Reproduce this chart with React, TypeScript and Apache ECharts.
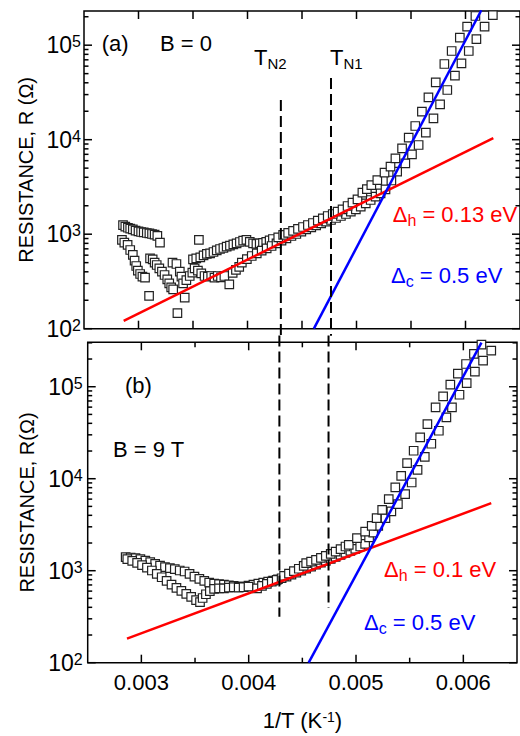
import React, { useEffect, useRef } from "react";
import * as echarts from "echarts";

const FONT = "Liberation Sans, Arial, Helvetica, sans-serif";
const RED = "#ff0000";
const BLUE = "#0000ff";

const X_MIN = 0.0025;
const X_MAX = 0.0065;
const Y_MIN = 100;
const Y_MAX_A = 230000;
const Y_MAX_B = 304000;

const xMajorTicks = [0.003, 0.004, 0.005, 0.006];
const xMinorTicks = [0.0035, 0.0045, 0.0055];
const yMajorTicks = [1e2, 1e3, 1e4, 1e5];
const yMinorTicksA = [200, 300, 400, 500, 600, 700, 800, 900, 2000, 3000, 4000, 5000, 6000, 7000, 8000, 9000, 20000, 30000, 40000, 50000, 60000, 70000, 80000, 90000, 200000];
const yMinorTicksB = [200, 300, 400, 500, 600, 700, 800, 900, 2000, 3000, 4000, 5000, 6000, 7000, 8000, 9000, 20000, 30000, 40000, 50000, 60000, 70000, 80000, 90000, 200000, 300000];

// Panel (a): B = 0, resistance vs 1/T
const dataA = [
  [0.002858, 1250], [0.002879, 1200], [0.002903, 1170], [0.002924, 1145], [0.002948, 1125], [0.002973, 1090],
  [0.003, 1070], [0.003024, 1055], [0.003048, 1045], [0.003076, 1030], [0.0031, 1020], [0.003124, 1005],
  [0.003148, 990], [0.003173, 960], [0.003197, 815],
  [0.002848, 869], [0.00287, 814], [0.0029, 770], [0.002924, 680], [0.002948, 603], [0.002964, 525],
  [0.002979, 461], [0.002994, 411], [0.003015, 379], [0.003036, 356], [0.00306, 347], [0.003106, 556],
  [0.00313, 542], [0.003148, 500], [0.003167, 472], [0.003191, 435], [0.003215, 402], [0.003239, 370],
  [0.003264, 333], [0.003282, 302], [0.0033, 274], [0.003318, 261],
  [0.003097, 222], [0.003357, 146], [0.003424, 213], [0.003554, 869],
  [0.003312, 500], [0.003348, 484], [0.003379, 402], [0.003394, 356], [0.003409, 302], [0.003439, 327],
  [0.00347, 361], [0.003494, 392],
  [0.0035, 542], [0.00353, 556], [0.003567, 569], [0.003597, 598], [0.003627, 618], [0.003657, 628],
  [0.003688, 648], [0.003718, 675], [0.003748, 697], [0.003779, 714], [0.003809, 738], [0.003839, 757],
  [0.00387, 782], [0.0039, 800], [0.00393, 827], [0.00396, 855], [0.00399, 869], [0.004021, 830],
  [0.004051, 800], [0.004082, 790], [0.004112, 800], [0.004142, 810], [0.004172, 830], [0.004203, 860],
  [0.004233, 890],
  [0.003515, 435], [0.003545, 411], [0.003576, 385], [0.003606, 361], [0.003636, 356], [0.003667, 361],
  [0.003697, 347], [0.003727, 361], [0.003757, 350], [0.003788, 361], [0.003833, 295], [0.003864, 390],
  [0.003894, 420], [0.003924, 450], [0.003948, 500], [0.003994, 545], [0.004039, 588],
  [0.004085, 628], [0.00413, 670], [0.004176, 708], [0.004221, 750], [0.004266, 800], [0.004312, 855],
  [0.004357, 904], [0.004403, 957], [0.004448, 1005], [0.004494, 1064], [0.004539, 1125], [0.004585, 1183],
  [0.00463, 1241], [0.004676, 1303], [0.004721, 1358], [0.004766, 1413], [0.004812, 1483], [0.004857, 1558],
  [0.004903, 1636], [0.004948, 1731], [0.004994, 1832], [0.005039, 1955], [0.005085, 2122], [0.00513, 2301],
  [0.005175, 2496], [0.005221, 2704], [0.005266, 2985], [0.00532, 3700],
  [0.005373, 4585], [0.005448, 5620], [0.005509, 7000], [0.00557, 8790], [0.005636, 11860], [0.005706, 16820],
  [0.005767, 23650], [0.005833, 33570], [0.005903, 47580], [0.005963, 64300], [0.00603, 86800], [0.0061, 116000],
  [0.006175, 157000], [0.006251, 208500],
  [0.004282, 927], [0.004327, 982], [0.004373, 1031], [0.004418, 1082], [0.004463, 1136], [0.004509, 1192],
  [0.004554, 1251], [0.0046, 1313], [0.004645, 1390], [0.004691, 1472], [0.004736, 1558], [0.004782, 1636],
  [0.004827, 1731], [0.004872, 1832], [0.004918, 1987], [0.004963, 2156], [0.005009, 2339], [0.005054, 2748],
  [0.005095, 3000], [0.005136, 3311], [0.005191, 3740], [0.005257, 4475], [0.005312, 5180], [0.005357, 6340],
  [0.005418, 8090], [0.005479, 10500], [0.005539, 13960], [0.0056, 19800], [0.00566, 28050], [0.005727, 40450],
  [0.005806, 63200], [0.005873, 86800], [0.005948, 120000], [0.006015, 157000], [0.006091, 203700]
];

// Panel (b): B = 9 T
const dataB = [
  [0.0028537, 1403], [0.0029, 1391], [0.0029452, 1368], [0.002991, 1334], [0.0030368, 1290], [0.0030826, 1237],
  [0.0031284, 1186], [0.0031741, 1138], [0.0032199, 1092], [0.0032657, 1065], [0.0033115, 1038], [0.0033573, 1005],
  [0.0034031, 980], [0.0034489, 923], [0.0034946, 863], [0.0035404, 814], [0.0035862, 774], [0.003632, 743],
  [0.0036778, 725], [0.0037236, 713], [0.0037694, 707], [0.0038151, 695], [0.0038609, 684], [0.0039067, 673],
  [0.0039525, 673], [0.0039983, 689], [0.0040441, 707], [0.0040899, 725], [0.0041356, 743], [0.0041814, 762],
  [0.0042272, 781], [0.004273, 807],
  [0.0028689, 1334], [0.0029147, 1280], [0.0029605, 1217], [0.0030063, 1148], [0.0030521, 1082], [0.0030979, 1005],
  [0.0031436, 923], [0.0031894, 849], [0.0032352, 774], [0.003281, 707], [0.0033268, 650], [0.0033726, 603],
  [0.0034183, 560], [0.0034641, 520], [0.0035099, 480], [0.0035465, 455], [0.0035709, 505], [0.0036015, 555],
  [0.0036381, 600], [0.0036778, 634], [0.0037236, 644], [0.0037694, 644], [0.0038151, 656], [0.0038609, 661],
  [0.0039067, 656], [0.0039525, 661], [0.0039983, 673],
  [0.0040778, 644], [0.0041236, 684], [0.0041694, 718], [0.0042151, 762], [0.0042609, 794], [0.0043067, 828],
  [0.0043525, 863], [0.0043983, 908], [0.004444, 955], [0.0044898, 1003], [0.0045356, 1055], [0.0045814, 1109],
  [0.0046272, 1166], [0.004673, 1225], [0.0047187, 1278], [0.0047645, 1343], [0.0048103, 1413], [0.0048561, 1485],
  [0.0049019, 1563], [0.0049476, 1641], [0.0049934, 1726], [0.0050392, 1832], [0.005085, 1958],
  [0.0051218, 2300], [0.00516, 2600], [0.0052072, 3073], [0.0052744, 3722], [0.0053293, 4406], [0.0053904, 5290],
  [0.0054575, 6790], [0.0055186, 9100], [0.0055735, 12500], [0.0056407, 17300], [0.0057017, 23990], [0.0057719, 33200],
  [0.0058421, 46360], [0.005894, 59600], [0.0059641, 81800], [0.0060313, 109600], [0.0061076, 145600],
  [0.0061839, 191900], [0.0062602, 246600],
  [0.0043296, 880], [0.0043754, 930], [0.0044212, 990], [0.004467, 1050], [0.0045128, 1130],
  [0.0045356, 1206], [0.0045814, 1256], [0.0046272, 1310], [0.004673, 1377], [0.0047187, 1449], [0.0047645, 1523],
  [0.0048103, 1614], [0.0048561, 1713], [0.0049019, 1832], [0.0049325, 1909], [0.0050088, 2255], [0.0050851, 2665],
  [0.0051462, 3073], [0.005192, 3722], [0.0052438, 4590], [0.005305, 5998], [0.005366, 8035], [0.0054209, 10760],
  [0.0054758, 14790], [0.0055369, 20140], [0.0055979, 28120], [0.0056651, 39270], [0.0057414, 59600],
  [0.0058116, 78500], [0.0058787, 105200], [0.0059489, 138700], [0.0060252, 176600], [0.0060985, 227000],
  [0.0061686, 286400]
];

// Activation fits (end points)
const fitHopA = [[0.002864, 121], [0.006255, 10400]];
const fitGapA = [[0.004609, 100], [0.006145, 234000]];
const fitHopB = [[0.002866, 183], [0.00626, 5420]];
const fitGapB = [[0.004559, 100], [0.006169, 301000]];

// Neel temperatures (dashed markers, 1/T)
const tN2A = [[0.004306, 26300], [0.004306, 84]];
const tN1A = [[0.004766, 45000], [0.004766, 84]];
const tN2B = [[0.004286, 360000], [0.004286, 316]];
const tN1B = [[0.004744, 360000], [0.004744, 394]];

const buildTicks = (yMinor: number[], xMinorLen: number) => {
  const t: number[][] = [];
  yMajorTicks.forEach((v) => t.push([0, v, 8]));
  yMinor.forEach((v) => t.push([0, v, 4.5]));
  xMajorTicks.forEach((v) => t.push([1, v, 8]));
  xMinorTicks.forEach((v) => t.push([1, v, xMinorLen]));
  return t;
};

const tickSeries = (idx: number, yMax: number, ticks: number[][]) => ({
  type: "custom",
  xAxisIndex: idx,
  yAxisIndex: idx,
  silent: true,
  clip: false,
  z: 10,
  data: ticks,
  renderItem: (params: any, api: any) => {
    const kind = api.value(0);
    const v = api.value(1);
    const len = api.value(2);
    const st = { stroke: "#000", lineWidth: 1.5 };
    if (kind === 0) {
      const a = api.coord([X_MIN, v]);
      const b = api.coord([X_MAX, v]);
      return {
        type: "group",
        children: [
          { type: "line", shape: { x1: a[0], y1: a[1], x2: a[0] + len, y2: a[1] }, style: st },
          { type: "line", shape: { x1: b[0], y1: b[1], x2: b[0] - len, y2: b[1] }, style: st },
        ],
      };
    }
    const a = api.coord([v, Y_MIN]);
    const b = api.coord([v, yMax]);
    return {
      type: "group",
      children: [
        { type: "line", shape: { x1: a[0], y1: a[1], x2: a[0], y2: a[1] - len }, style: st },
        { type: "line", shape: { x1: b[0], y1: b[1], x2: b[0], y2: b[1] + len }, style: st },
      ],
    };
  },
});

const yLabelFmt = (v: number) => {
  const e = Math.log10(v);
  if (Math.abs(e - Math.round(e)) < 1e-6) return `{b|10}{s|${Math.round(e)}}`;
  return "";
};
const yLabelRich = {
  b: { fontSize: 23, lineHeight: 23, verticalAlign: "bottom", color: "#000", fontFamily: FONT },
  s: { fontSize: 16, lineHeight: 16, padding: [0, 0, 10, 0], verticalAlign: "top", color: "#000", fontFamily: FONT },
};
const xLabelFmt = (v: number) => {
  const k = v * 1000;
  return Math.abs(k - Math.round(k)) < 1e-6 ? (Math.round(k) / 1000).toFixed(3) : "";
};

const scatterStyle = {
  type: "scatter",
  symbol: "rect",
  symbolSize: 8.5,
  itemStyle: { color: "#fff", borderColor: "#222", borderWidth: 1.2, opacity: 1 },
  z: 2,
};
const lineSeries = (idx: number, data: number[][], color: string) => ({
  type: "line",
  xAxisIndex: idx,
  yAxisIndex: idx,
  data,
  symbol: "none",
  lineStyle: { color, width: 2.5 },
  z: 4,
  silent: true,
});
const dashSeries = (idx: number, data: number[][]) => ({
  type: "line",
  xAxisIndex: idx,
  yAxisIndex: idx,
  data,
  symbol: "none",
  clip: false,
  lineStyle: { color: "#000", width: 2, type: [11, 5] },
  z: 5,
  silent: true,
});

const deltaText = (x: number, y: number, sub: string, rest: string, color: string) => ({
  type: "text",
  x,
  y,
  style: {
    text: `{d|Δ}{s|${sub}}{d|${rest}}`,
    verticalAlign: "middle",
    align: "left",
    rich: {
      d: { fontSize: 22, lineHeight: 22, verticalAlign: "top", fill: color, fontFamily: FONT },
      s: { fontSize: 16, lineHeight: 16, padding: [9, 0, 0, 0], verticalAlign: "top", fill: color, fontFamily: FONT },
    },
  },
});
const tText = (x: number, y: number, sub: string) => ({
  type: "text",
  x,
  y,
  style: {
    text: `{t|T}{s|${sub}}`,
    verticalAlign: "middle",
    align: "left",
    rich: {
      t: { fontSize: 22, lineHeight: 22, verticalAlign: "top", fill: "#000", fontFamily: FONT },
      s: { fontSize: 15, lineHeight: 15, padding: [10, 0, 0, 0], verticalAlign: "top", fill: "#000", fontFamily: FONT },
    },
  },
});
const plainText = (x: number, y: number, text: string) => ({
  type: "text",
  x,
  y,
  style: { text, fontSize: 22, fontFamily: FONT, fill: "#000", verticalAlign: "middle", align: "left" },
});

export default function App() {
  const ref = useRef<HTMLDivElement>(null);
  useEffect(() => {
    if (!ref.current) return;
    const chart = echarts.init(ref.current, null, { renderer: "svg" });
    const yName = {
      nameLocation: "middle",
      nameTextStyle: { fontSize: 20, color: "#000", fontFamily: FONT },
    };
    chart.setOption({
      animation: false,
      backgroundColor: "#fff",
      grid: [
        { left: 84, top: 11, width: 440, height: 317.7, show: true, borderColor: "#000", borderWidth: 1.5, backgroundColor: "transparent" },
        { left: 87.7, top: 342.3, width: 436.8, height: 320.4, show: true, borderColor: "#000", borderWidth: 1.5, backgroundColor: "transparent" },
      ],
      xAxis: [
        {
          gridIndex: 0, type: "value", min: X_MIN, max: X_MAX, interval: 0.0005,
          axisLine: { show: false }, axisTick: { show: false }, axisLabel: { show: false }, splitLine: { show: false },
        },
        {
          gridIndex: 1, type: "value", min: X_MIN, max: X_MAX, interval: 0.0005,
          axisLine: { show: false }, axisTick: { show: false }, splitLine: { show: false },
          axisLabel: { show: true, fontSize: 22, color: "#000", fontFamily: FONT, margin: 9, formatter: xLabelFmt, hideOverlap: false },
          name: "{b|1/T (K}{s|-1}{b|)}",
          nameLocation: "middle",
          nameGap: 47,
          nameTextStyle: {
            rich: {
              b: { fontSize: 22, lineHeight: 22, verticalAlign: "bottom", color: "#000", fontFamily: FONT },
              s: { fontSize: 14, lineHeight: 14, padding: [0, 0, 9, 0], verticalAlign: "top", color: "#000", fontFamily: FONT },
            },
          },
        },
      ],
      yAxis: [
        {
          gridIndex: 0, type: "log", logBase: 10, min: Y_MIN, max: Y_MAX_A,
          axisLine: { show: false }, axisTick: { show: false }, splitLine: { show: false }, minorTick: { show: false },
          axisLabel: { formatter: yLabelFmt, rich: yLabelRich, margin: 3 },
          name: "RESISTANCE, R (Ω)", nameGap: 48, ...yName,
        },
        {
          gridIndex: 1, type: "log", logBase: 10, min: Y_MIN, max: Y_MAX_B,
          axisLine: { show: false }, axisTick: { show: false }, splitLine: { show: false }, minorTick: { show: false },
          axisLabel: { formatter: yLabelFmt, rich: yLabelRich, margin: 5 },
          name: "RESISTANCE, R(Ω)", nameGap: 50, ...yName,
        },
      ],
      series: [
        { ...scatterStyle, xAxisIndex: 0, yAxisIndex: 0, data: dataA },
        { ...scatterStyle, xAxisIndex: 1, yAxisIndex: 1, data: dataB },
        lineSeries(0, fitHopA, RED),
        lineSeries(0, fitGapA, BLUE),
        lineSeries(1, fitHopB, RED),
        lineSeries(1, fitGapB, BLUE),
        dashSeries(0, tN2A),
        dashSeries(0, tN1A),
        dashSeries(1, tN2B),
        dashSeries(1, tN1B),
        tickSeries(0, Y_MAX_A, buildTicks(yMinorTicksA, 8)),
        tickSeries(1, Y_MAX_B, buildTicks(yMinorTicksB, 5)),
      ],
      graphic: [
        plainText(101.7, 43.3, "(a)"),
        plainText(160, 43.3, "B = 0"),
        tText(254, 57.2, "N2"),
        tText(330, 57.2, "N1"),
        deltaText(392.7, 214.8, "h", " = 0.13 eV", RED),
        deltaText(391, 275.7, "c", " = 0.5 eV", BLUE),
        plainText(125, 385, "(b)"),
        plainText(113, 449, "B = 9 T"),
        deltaText(384, 569, "h", " = 0.1 eV", RED),
        deltaText(364, 622.3, "c", " = 0.5 eV", BLUE),
      ],
    });
    return () => chart.dispose();
  }, []);
  return <div ref={ref} style={{ position: "fixed", left: 0, top: 0, width: 520, height: 736 }} />;
}
